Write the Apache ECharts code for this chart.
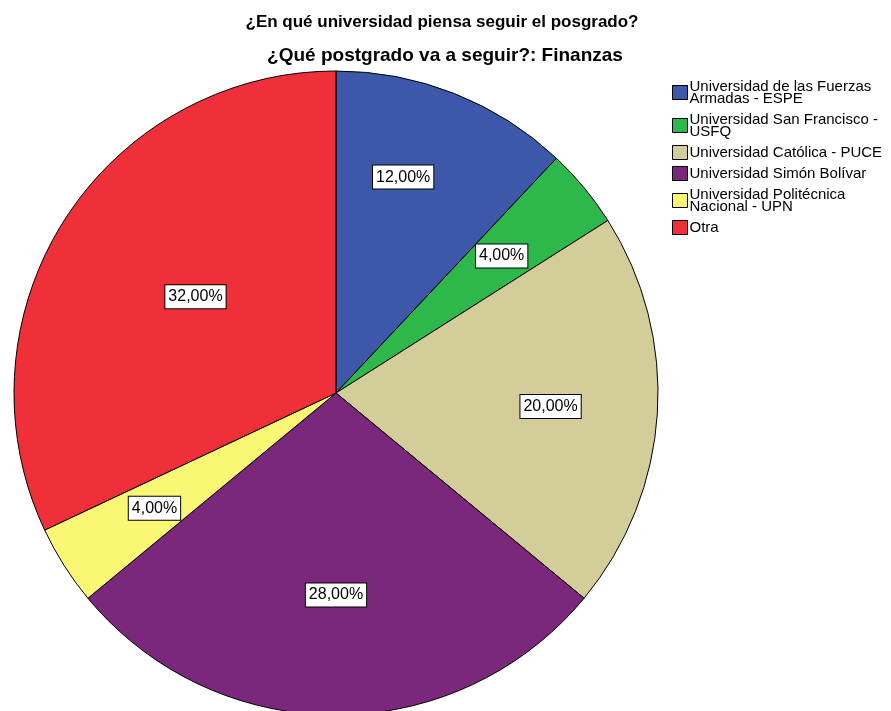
<!DOCTYPE html>
<html>
<head>
<meta charset="utf-8">
<script src="https://cdn.jsdelivr.net/npm/echarts@6/dist/echarts.min.js"></script>
<style>html,body{margin:0;padding:0;background:#fff;}#c{width:891px;height:711px;}</style>
</head>
<body>
<div id="c"></div>
<script>
const titleText = '¿En qué universidad piensa seguir el posgrado?';
const subtitleText = '¿Qué postgrado va a seguir?: Finanzas';
const categories = [
  'Universidad de las Fuerzas\nArmadas - ESPE',
  'Universidad San Francisco -\nUSFQ',
  'Universidad Católica - PUCE',
  'Universidad Simón Bolívar',
  'Universidad Politécnica\nNacional - UPN',
  'Otra'
];
const values = [12, 4, 20, 28, 4, 32];
const colors = ['#3d58aa', '#2eb84b', '#d3cd99', '#7b287c', '#faf774', '#ef3039'];

const chart = echarts.init(document.getElementById('c'), null, {renderer: 'canvas'});
const FONT = '"Liberation Sans", Arial, sans-serif';
const labelOffsets = [[-12, -16], [0, 0], [0, 0], [0, -13], [0, 0], [41, 19]];
const total = values.reduce((a, b) => a + b, 0);
const fmt = v => (v / total * 100).toFixed(2).replace('.', ',') + '%';

const mainData = categories.map((n, i) => ({name: n, value: values[i], itemStyle: {color: colors[i]}}));
const labelData = categories.map((n, i) => ({
  name: n, value: values[i],
  label: {offset: labelOffsets[i]}
}));

chart.setOption({
  animation: false,
  backgroundColor: '#fff',
  title: [
    {text: titleText, left: 442, top: 14, textAlign: 'center', padding: 0,
     textStyle: {fontFamily: FONT, fontSize: 17, fontWeight: 'bold', color: '#000'}},
    {text: subtitleText, left: 445, top: 46, textAlign: 'center', padding: 0,
     textStyle: {fontFamily: FONT, fontSize: 19, fontWeight: 'bold', color: '#000'}}
  ],
  legend: {
    orient: 'vertical', left: 672, top: 79, padding: 0,
    itemWidth: 15, itemHeight: 14, itemGap: 6,
    icon: 'rect',
    selectedMode: false,
    data: categories,
    itemStyle: {borderColor: '#000', borderWidth: 1},
    textStyle: {fontFamily: FONT, fontSize: 15, lineHeight: 12, color: '#000', padding: [0, 0, 0, -3]}
  },
  series: [
    {
      type: 'pie', center: [336, 393], radius: [0, 322],
      startAngle: 90, clockwise: true, silent: true,
      data: mainData,
      itemStyle: {borderColor: '#000', borderWidth: 1},
      label: {show: false}, labelLine: {show: false}
    },
    {
      type: 'pie', center: [336, 393], radius: [102, 322],
      startAngle: 90, clockwise: true, silent: true,
      data: labelData,
      itemStyle: {color: 'rgba(0,0,0,0)', borderWidth: 0},
      labelLine: {show: false},
      label: {
        show: true, position: 'inner',
        formatter: p => fmt(p.value),
        fontFamily: FONT, fontSize: 16, color: '#000',
        backgroundColor: '#fff', borderColor: '#000', borderWidth: 1,
        padding: [4, 3, 3, 3]
      }
    }
  ]
});
</script>
</body>
</html>
